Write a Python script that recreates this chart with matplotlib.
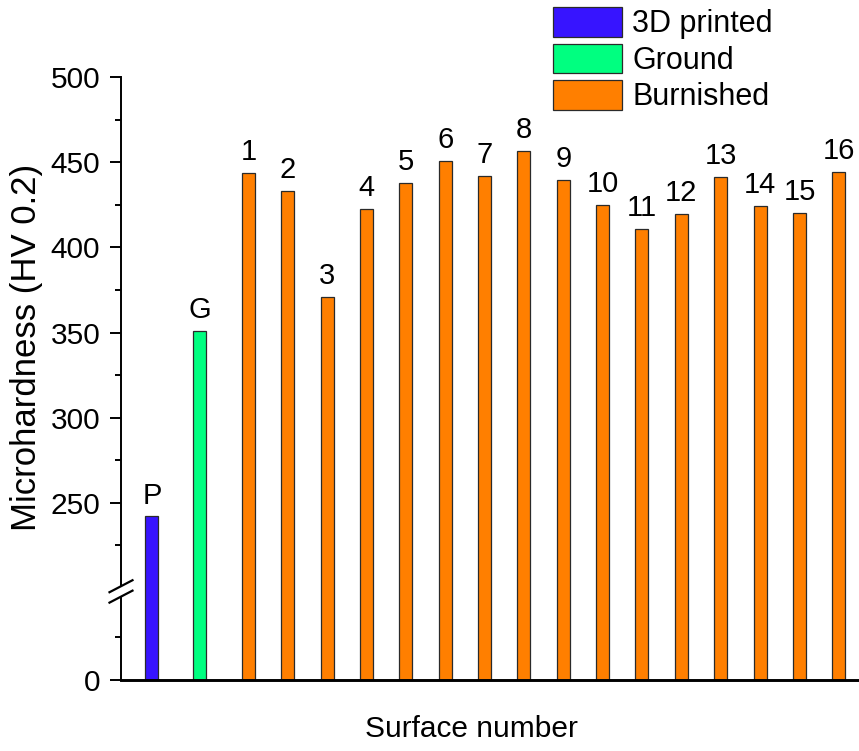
import numpy as np
import matplotlib
matplotlib.use("Agg")
import matplotlib.pyplot as plt
from matplotlib.patches import Patch, Polygon
from matplotlib.lines import Line2D

plt.rcParams['font.family'] = ['Liberation Sans', 'DejaVu Sans']

# ---- data ----
labels = ['P', 'G'] + [str(i) for i in range(1, 17)]
groups = ['3D printed', 'Ground'] + ['Burnished'] * 16
hardness = [242, 351, 443.8, 432.9, 371, 422.7, 437.8, 450.9, 441.9, 456.8,
            439.6, 424.7, 411, 419.8, 441.5, 424.1, 420, 444.4]
group_names = ['3D printed', 'Ground', 'Burnished']
group_colors = {'3D printed': '#3714FF', 'Ground': '#00FF80', 'Burnished': '#FF7F00'}
major_ticks = [0, 250, 300, 350, 400, 450, 500]
minor_ticks = [25, 225, 275, 325, 375, 425, 475]

# ---- layout ----
xpos = [-1.45, -0.23] + list(range(1, 17))
bar_w = 0.33

# broken-axis scale: compress 50..200
def fwd(y):
    y = np.asarray(y, dtype=float)
    return np.where(y <= 50, y, np.where(y >= 200, y - 146, 50 + (y - 50) * 4 / 150))

def inv(t):
    t = np.asarray(t, dtype=float)
    return np.where(t <= 50, t, np.where(t >= 54, t + 146, 50 + (t - 50) * 150 / 4))

W, H = 859, 751
fig = plt.figure(figsize=(W / 100, H / 100), dpi=100)
ax = fig.add_axes([121 / W, 1 - 680 / H, (858.5 - 121) / W, (680 - 77) / H])
ax.set_yscale('function', functions=(fwd, inv))

for x, v, g, lab in zip(xpos, hardness, groups, labels):
    ax.bar(x, v, width=bar_w, color=group_colors[g], edgecolor='#2a2a2a',
           linewidth=0.9, zorder=2)
    ax.annotate(lab, (x, v), xytext=(0, 9.3), textcoords='offset points',
                ha='center', va='baseline', fontsize=21)

ax.set_xlim(-2.234, 16.5)
ax.set_ylim(0, 500)
ax.set_yticks(major_ticks)
ax.set_yticks(minor_ticks, minor=True)
ax.set_yticklabels([str(t) for t in major_ticks])
ax.set_xticks([])
ax.tick_params(axis='y', which='major', length=8, width=1.4, pad=7, labelsize=21.5, direction='out')
ax.tick_params(axis='y', which='minor', length=4, width=1.4, direction='out')
for s in ['top', 'right']:
    ax.spines[s].set_visible(False)
ax.spines['left'].set_linewidth(1.4)
ax.spines['bottom'].set_linewidth(2.1)

ax.set_ylabel('Microhardness (HV 0.2)', fontsize=25)
ax.yaxis.set_label_coords(-0.106, 0.552)
fig.text(471 / W, 1 - 737 / H, 'Surface number', ha='center', va='baseline', fontsize=21.5)

# break marks
fig.canvas.draw()
cx, cy = ax.transData.transform((-2.234, 125))
fx = lambda px: px / W
fy = lambda py: py / H
dx, dy, off = 11.5, 6.0, 5.2
s = dy / dx * 3
poly = Polygon([(fx(cx - 3), fy(cy - off - s)), (fx(cx + 3), fy(cy - off + s)),
                (fx(cx + 3), fy(cy + off + s)), (fx(cx - 3), fy(cy + off - s))],
               closed=True, facecolor='white', edgecolor='none', transform=fig.transFigure, zorder=5)
fig.add_artist(poly)
for o in (off, -off):
    fig.add_artist(Line2D([fx(cx - dx), fx(cx + dx)], [fy(cy + o - dy), fy(cy + o + dy)],
                          color='black', linewidth=1.6, transform=fig.transFigure, zorder=6))

handles = [Patch(facecolor=group_colors[g], edgecolor='#2a2a2a', linewidth=0.9) for g in group_names]
fig.legend(handles, group_names, loc='upper left', bbox_to_anchor=(553 / W, 1 - 7 / H),
           frameon=False, fontsize=22, handlelength=2.26, handleheight=1.11,
           labelspacing=0.147, handletextpad=0.33, borderpad=0, borderaxespad=0)

fig.savefig('out.png', dpi=100)
